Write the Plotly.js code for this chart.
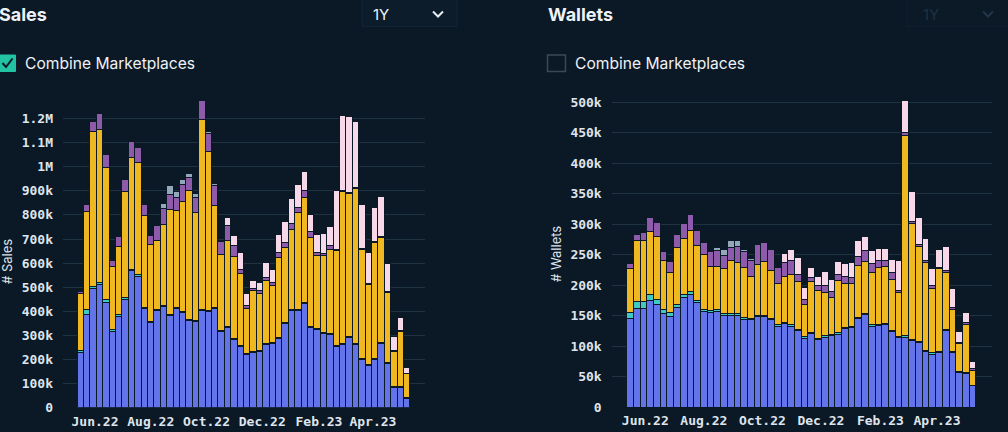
<!DOCTYPE html>
<html>
<head>
<meta charset="utf-8">
<script src="https://cdn.plot.ly/plotly-3.0.1.min.js"></script>
<style>
html,body{margin:0;padding:0;background:#0b1826;overflow:hidden;}
#chart{width:1008px;height:432px;}
</style>
</head>
<body>
<div id="chart"></div>
<script>
// ---- DATA (values in thousands) ----
const weeks = ["2022-05-16","2022-05-23","2022-05-30","2022-06-06","2022-06-13","2022-06-20","2022-06-27","2022-07-04","2022-07-11","2022-07-18","2022-07-25","2022-08-01","2022-08-08","2022-08-15","2022-08-22","2022-08-29","2022-09-05","2022-09-12","2022-09-19","2022-09-26","2022-10-03","2022-10-10","2022-10-17","2022-10-24","2022-10-31","2022-11-07","2022-11-14","2022-11-21","2022-11-28","2022-12-05","2022-12-12","2022-12-19","2022-12-26","2023-01-02","2023-01-09","2023-01-16","2023-01-23","2023-01-30","2023-02-06","2023-02-13","2023-02-20","2023-02-27","2023-03-06","2023-03-13","2023-03-20","2023-03-27","2023-04-03","2023-04-10","2023-04-17","2023-04-24","2023-05-01","2023-05-08"];

const xTickVals = ["2022-06-01","2022-08-01","2022-10-01","2022-12-01","2023-02-01","2023-04-01"];
const xTickText = ["Jun.22","Aug.22","Oct.22","Dec.22","Feb.23","Apr.23"];

const salesTickVals = [0,100000,200000,300000,400000,500000,600000,700000,800000,900000,1000000,1100000,1200000];
const salesTickText = ["0","100k","200k","300k","400k","500k","600k","700k","800k","900k","1M","1.1M","1.2M"];
const walletsTickVals = [0,50000,100000,150000,200000,250000,300000,350000,400000,450000,500000];
const walletsTickText = ["0","50k","100k","150k","200k","250k","300k","350k","400k","450k","500k"];

// Sales (thousands)
const salesBlue   = [227,385,493,510,438,318,380,450,570,546,411,354,402,419,384,412,395,362,358,405,398,413,315,333,285,254,220,229,234,264,267,287,350,402,402,432,333,326,308,305,254,261,292,264,202,174,199,267,185,84,84,40];
const salesTeal   = [11,21,10,11,10,7,8,7,5,5,5,4,4,4,4,4,4,4,4,4,4,4,4,4,4,4,4,4,4,4,4,4,4,4,4,4,4,4,4,4,4,4,4,4,4,4,4,4,4,4,4,3];
const salesYellow = [234,408,645,635,549,261,279,442,464,467,381,320,289,338,435,402,456,536,449,786,663,424,315,355,338,297,189,252,236,258,236,333,310,334,403,436,369,300,318,348,393,631,592,642,452,335,482,435,289,146,228,98];
const salesPurple = [10,30,41,65,54,23,43,46,67,61,47,36,60,64,60,54,72,55,61,80,73,83,55,66,46,17,10,11,11,15,14,21,21,25,22,31,25,15,11,18,6,7,4,4,4,4,4,4,4,3,3,3];
const salesGrey   = [0,0,0,0,0,0,0,0,0,0,0,0,0,23,38,27,21,14,18,0,7,6,0,0,0,0,0,0,0,0,0,0,0,0,0,0,0,0,0,0,0,0,0,0,0,0,0,0,0,0,0,0];
const salesPink   = [0,0,0,0,0,0,0,0,0,0,0,0,0,0,0,0,0,0,0,0,0,0,0,31,40,74,52,30,33,61,51,72,87,104,96,79,71,72,83,76,243,311,315,272,182,128,141,166,117,57,56,24];

// Wallets (thousands)
const walletsBlue   = [146,162,162,175,169,154,149,163,180,184,171,157,156,157,151,151,151,144,143,149,149,144,132,137,133,126,113,121,111,115,117,120,129,130,145,152,133,134,135,124,114,115,109,106,91,87,90,125,89,57,56,35];
const walletsTeal   = [10,11,11,9,8,6,7,6,5,5,4,3,3,4,3,3,3,3,3,2,2,2,3,2,2,2,3,2,2,2,2,3,2,2,2,2,2,2,2,2,2,2,2,2,2,2,2,2,2,1,1,1];
const walletsYellow = [72,101,100,104,102,81,64,92,91,100,90,91,71,69,73,86,83,82,69,83,88,78,68,76,82,78,52,83,78,71,61,84,72,70,86,85,86,93,93,84,72,328,190,155,144,106,135,94,70,46,79,25];
const walletsPurple = [7,9,14,23,24,14,19,22,25,26,24,19,25,26,22,22,26,26,25,32,31,34,26,22,24,12,8,7,9,11,9,11,11,11,14,18,14,11,10,11,4,5,4,4,3,4,2,3,3,2,3,3];
const walletsGrey   = [0,0,0,0,0,0,0,0,0,0,0,0,0,5,10,12,10,3,4,0,0,0,0,0,0,0,0,0,0,0,0,0,0,0,0,0,0,0,0,0,0,0,0,0,0,0,0,0,0,0,0,0];
const walletsPink   = [0,0,0,0,0,0,0,0,0,0,0,0,0,0,0,0,0,0,0,0,0,0,0,15,18,27,21,16,15,23,21,21,22,24,27,22,21,20,20,21,49,53,48,44,36,29,30,39,31,18,17,11];

const seriesNames = ["Blue","Teal","Yellow","Purple","Grey","Pink"];

// ---- STYLE ----
const BG = "#0b1826";
const colors = ["#6373ea","#3ec9c1","#efb820","#8d5ba9","#93a7bb","#f6d8e8"];
const W = 1008, H = 432;
const px = p => p / W;
const py = p => 1 - p / H;

const salesSets = [salesBlue,salesTeal,salesYellow,salesPurple,salesGrey,salesPink];
const walletsSets = [walletsBlue,walletsTeal,walletsYellow,walletsPurple,walletsGrey,walletsPink];

const traces = [];
function addSet(sets, xa, ya) {
  sets.forEach((vals, i) => {
    traces.push({
      type: "bar",
      x: weeks,
      y: vals.map(v => v * 1000),
      name: seriesNames[i],
      xaxis: xa, yaxis: ya,
      marker: {color: colors[i], line: {color: BG, width: 1}},
      hoverinfo: "skip",
      showlegend: false
    });
  });
}
addSet(salesSets, "x", "y");
addSet(walletsSets, "x2", "y2");

const tickFont = {family: "DejaVu Sans Mono", size: 13, color: "#dfe5ec", weight: 700};
const gridColor = "#1e3242";
const xCommon = {
  type: "date", range: ["2022-04-27","2023-05-28"],
  tickmode: "array", tickvals: xTickVals, ticktext: xTickText,
  showgrid: false, zeroline: false, showline: false, ticks: "",
  tickfont: tickFont, ticklabelstandoff: 4, fixedrange: true
};
const yCommon = {
  tickmode: "array", showgrid: true, gridcolor: gridColor, gridwidth: 1,
  zeroline: false, showline: false, ticks: "", tickfont: tickFont,
  ticklabelstandoff: 9, fixedrange: true
};

const annFont = {family: "Inter", color: "#eef2f6"};
const layout = {
  width: W, height: H,
  margin: {l: 0, r: 0, t: 0, b: 0},
  paper_bgcolor: BG, plot_bgcolor: BG,
  barmode: "stack", bargap: 0,
  showlegend: false,
  xaxis: Object.assign({}, xCommon, {domain: [px(63), px(425)], anchor: "y"}),
  yaxis: Object.assign({}, yCommon, {domain: [py(407.7), py(94.4)], range: [0, 1300000], tickvals: salesTickVals, ticktext: salesTickText, anchor: "x"}),
  xaxis2: Object.assign({}, xCommon, {domain: [px(611.7), px(991.7)], anchor: "y2"}),
  yaxis2: Object.assign({}, yCommon, {domain: [py(407.3), py(89.8)], range: [0, 520000], tickvals: walletsTickVals, ticktext: walletsTickText, anchor: "x2"}),
  shapes: [
    // left dropdown box
    {type: "rect", xref: "paper", yref: "paper", x0: px(362), x1: px(457), y0: py(26.5), y1: py(-2), fillcolor: "#0d1c2b", line: {color: "#13243a", width: 1}, layer: "below"},
    {type: "path", xref: "paper", yref: "paper", path: `M ${px(433)} ${py(11.5)} L ${px(438)} ${py(16.5)} L ${px(443)} ${py(11.5)}`, line: {color: "#e8edf2", width: 2}},
    // right dropdown box (disabled)
    {type: "rect", xref: "paper", yref: "paper", x0: px(907), x1: px(1010), y0: py(26.5), y1: py(-2), fillcolor: "#0c1a28", line: {color: "#0f1f30", width: 1}, layer: "below"},
    {type: "path", xref: "paper", yref: "paper", path: `M ${px(983)} ${py(11.5)} L ${px(988)} ${py(16.5)} L ${px(993)} ${py(11.5)}`, line: {color: "#233547", width: 2}},
    // left checkbox (checked)
    {type: "rect", xref: "paper", yref: "paper", x0: px(-1), x1: px(15.5), y0: py(71.5), y1: py(55), fillcolor: "#22c3a2", line: {color: "#22c3a2", width: 1}},
    {type: "path", xref: "paper", yref: "paper", path: `M ${px(2.5)} ${py(63)} L ${px(6)} ${py(67)} L ${px(12.5)} ${py(58.5)}`, line: {color: "#0b1826", width: 2}},
    // right checkbox (unchecked)
    {type: "rect", xref: "paper", yref: "paper", x0: px(547.5), x1: px(565.5), y0: py(71.5), y1: py(55), fillcolor: "rgba(0,0,0,0)", line: {color: "#3a4957", width: 1.5}}
  ],
  annotations: [
    {text: "<b>Sales</b>", xref: "paper", yref: "paper", x: px(-3), y: py(14), xanchor: "left", yanchor: "middle", showarrow: false, font: Object.assign({}, annFont, {size: 18})},
    {text: "<b>Wallets</b>", xref: "paper", yref: "paper", x: px(546), y: py(14), xanchor: "left", yanchor: "middle", showarrow: false, font: Object.assign({}, annFont, {size: 18})},
    {text: "1Y", xref: "paper", yref: "paper", x: px(371), y: py(14), xanchor: "left", yanchor: "middle", showarrow: false, font: Object.assign({}, annFont, {size: 15})},
    {text: "1Y", xref: "paper", yref: "paper", x: px(921), y: py(14), xanchor: "left", yanchor: "middle", showarrow: false, font: Object.assign({}, annFont, {size: 15, color: "#1f3142"})},
    {text: "Combine Marketplaces", xref: "paper", yref: "paper", x: px(23), y: py(63), xanchor: "left", yanchor: "middle", showarrow: false, font: Object.assign({}, annFont, {size: 15.6})},
    {text: "Combine Marketplaces", xref: "paper", yref: "paper", x: px(573), y: py(63), xanchor: "left", yanchor: "middle", showarrow: false, font: Object.assign({}, annFont, {size: 15.6})},
    {text: "# Sales", xref: "paper", yref: "paper", x: px(7), y: py(262), xanchor: "center", yanchor: "middle", textangle: -90, showarrow: false, font: Object.assign({}, annFont, {size: 13, color: "#dfe5ec"})},
    {text: "# Wallets", xref: "paper", yref: "paper", x: px(556), y: py(254), xanchor: "center", yanchor: "middle", textangle: -90, showarrow: false, font: Object.assign({}, annFont, {size: 13, color: "#dfe5ec"})}
  ]
};

Plotly.newPlot("chart", traces, layout, {displayModeBar: false, staticPlot: true});
</script>
</body>
</html>
